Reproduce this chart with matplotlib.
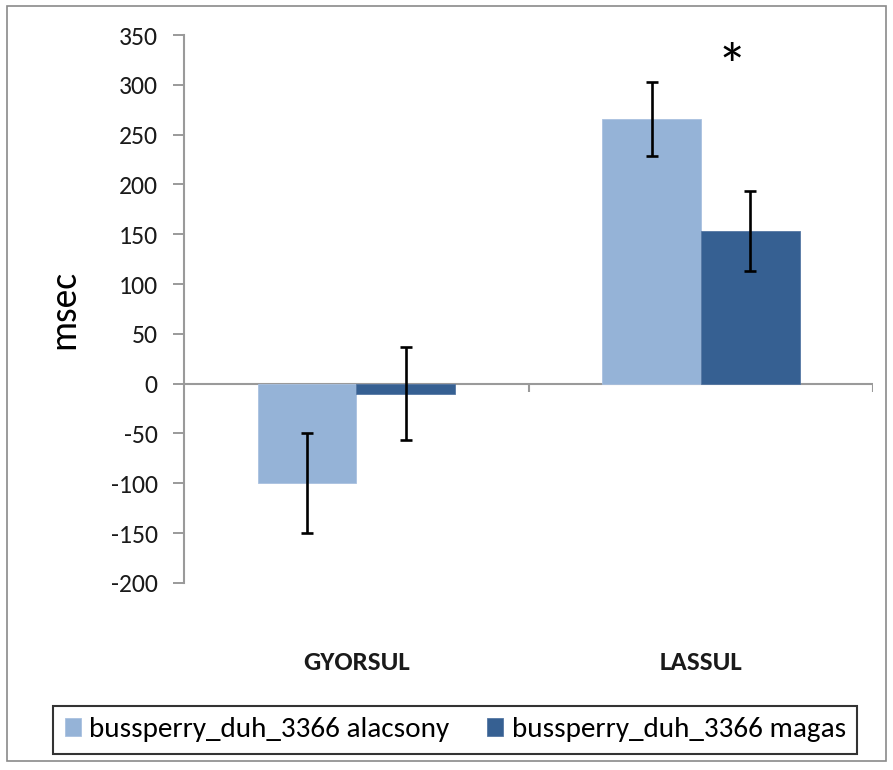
import matplotlib
matplotlib.use("Agg")
import matplotlib.pyplot as plt
from matplotlib.patches import Rectangle
import numpy as np

categories = ["GYORSUL", "LASSUL"]
series_names = ["bussperry_duh_3366 alacsony", "bussperry_duh_3366 magas"]
low_vals = [-100, 266]
low_err = [50, 37]
high_vals = [-10, 153]
high_err = [47, 40]
yticks = list(range(-200, 351, 50))
sig_marker = "*"
sig_value = 332

colors = ["#95B3D7", "#366092"]
FONT = ["Carlito", "DejaVu Sans"]
plt.rcParams["font.family"] = FONT

fig = plt.figure(figsize=(8.93, 7.70), dpi=100)
ax = fig.add_axes([0.206, 0.243, 0.772, 0.7115])

x = np.arange(len(categories))
w = 0.286
ax.bar(x - w/2, low_vals, w, color=colors[0], edgecolor="#a9c1e0", linewidth=0.6,
       label=series_names[0], zorder=2)
ax.bar(x + w/2, high_vals, w, color=colors[1], edgecolor="#5577a3", linewidth=0.6,
       label=series_names[1], zorder=2)
ax.errorbar(x - w/2, low_vals, yerr=low_err, fmt="none", ecolor="black",
            elinewidth=1.9, capsize=4.6, capthick=1.9, zorder=3)
ax.errorbar(x + w/2, high_vals, yerr=high_err, fmt="none", ecolor="black",
            elinewidth=1.9, capsize=4.6, capthick=1.9, zorder=3)

ax.annotate(sig_marker, xy=(x[1] + 0.09, sig_value), xytext=(0, -12),
            textcoords="offset points", ha="center", va="center",
            fontsize=44, color="black")

ax.set_xlim(-0.5, 1.5)
ax.set_ylim(-200, 350)
ax.set_yticks(yticks)
ax.set_yticklabels([str(t) for t in yticks], fontsize=18.5, color="#1a1a1a")
ax.tick_params(axis="y", direction="out", length=8, width=1.4, color="#9a9a9a", pad=11)

for s in ["top", "right", "bottom"]:
    ax.spines[s].set_visible(False)
ax.spines["left"].set_color("#9a9a9a")
ax.spines["left"].set_linewidth(1.5)

ax.axhline(0, color="#9a9a9a", linewidth=1.5, zorder=1)
ax.vlines([0.5, 1.5], -8, 0, color="#9a9a9a", linewidth=1.5)

ax.set_xticks(x)
ax.set_xticklabels(categories, fontsize=19.5, fontweight="bold", color="#1a1a1a")
ax.tick_params(axis="x", length=0, pad=49)

ax.set_ylabel("msec", fontsize=27)
ax.yaxis.set_label_coords((64 - 184) / 689, 0.5)
ax.yaxis.label.set_va("center")

leg = fig.legend(loc="center", bbox_to_anchor=(0.510, 0.052), ncol=2,
                 frameon=True, fancybox=False, edgecolor="black",
                 prop={"family": FONT, "size": 21},
                 handlelength=0.55, handleheight=0.55, handletextpad=0.3,
                 columnspacing=1.3, borderpad=0.38, borderaxespad=0.0)
leg.get_frame().set_linewidth(1.5)

fig.patches.append(Rectangle((0.008, 0.012), 0.984, 0.98, transform=fig.transFigure,
                             fill=False, edgecolor="#8a8a8a", linewidth=1.2))

fig.savefig("out.png", dpi=100)
